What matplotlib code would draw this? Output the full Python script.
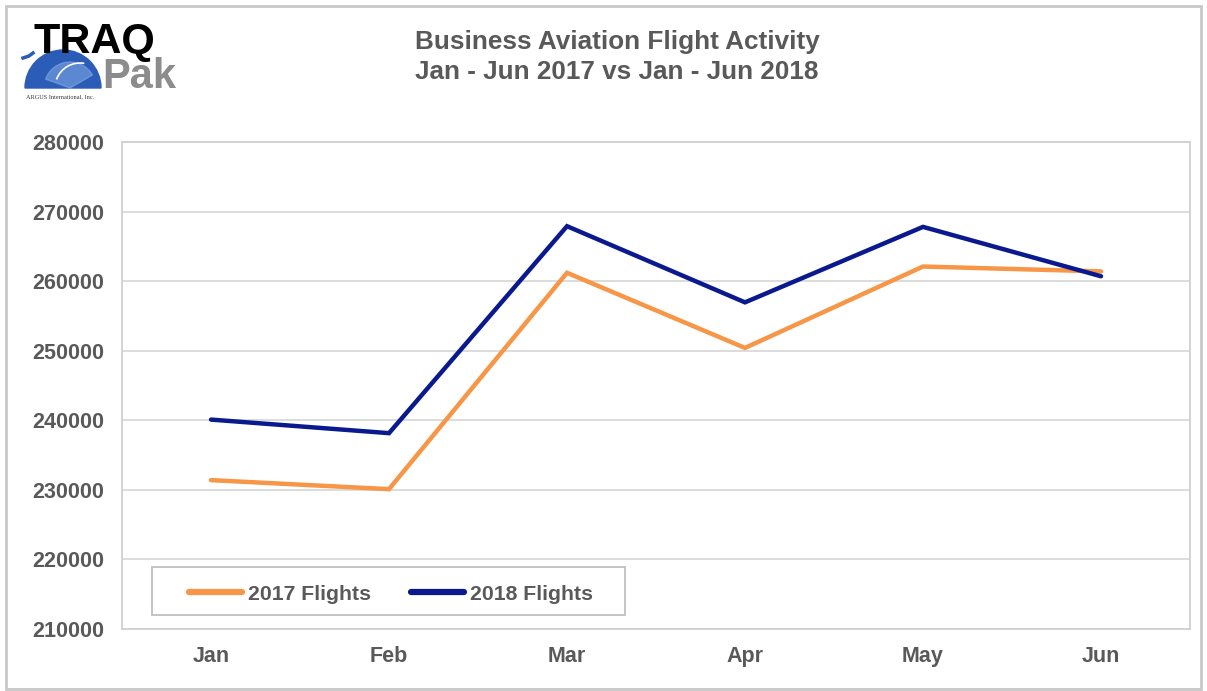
import matplotlib
matplotlib.use("Agg")
import matplotlib.pyplot as plt
from matplotlib.patches import Rectangle, Wedge, Arc
from matplotlib.lines import Line2D

months = ["Jan", "Feb", "Mar", "Apr", "May", "Jun"]
flights_2017 = [231400, 230100, 261200, 250400, 262100, 261400]
flights_2018 = [240100, 238150, 267900, 256950, 267800, 260700]
yticks = [210000, 220000, 230000, 240000, 250000, 260000, 270000, 280000]

plt.rcParams['font.family'] = ['Liberation Sans', 'DejaVu Sans']
grey_txt = "#595959"
c2017 = "#F79646"
c2018 = "#0A1A8E"

W, H = 1207, 691
fig = plt.figure(figsize=(W / 100, H / 100), dpi=100)
ax = fig.add_axes([122 / W, 1 - 629 / H, (1190 - 122) / W, (629 - 142) / H])

x = list(range(len(months)))
ax.plot(x, flights_2017, color=c2017, lw=3.2, solid_capstyle='round', solid_joinstyle='miter', zorder=3)
ax.plot(x, flights_2018, color=c2018, lw=3.2, solid_capstyle='round', solid_joinstyle='miter', zorder=4)

ax.set_xlim(-0.5, 5.5)
ax.set_ylim(210000, 280000)
ax.set_yticks(yticks)
ax.set_yticklabels([str(v) for v in yticks])
ax.set_xticks(x)
ax.set_xticklabels(months)
ax.tick_params(length=0, labelsize=15.5, labelcolor=grey_txt)
for lab in ax.get_xticklabels() + ax.get_yticklabels():
    lab.set_fontweight('bold')
ax.tick_params(axis='x', pad=12)
ax.tick_params(axis='y', pad=13)
ax.grid(axis='y', color="#D9D9D9", lw=1.3, zorder=0)
for s in ax.spines.values():
    s.set_color("#D0D0D0")
    s.set_linewidth(1.3)

# Legend (frame drawn separately)
bx0, bx1, by0, by1 = 152, 625, 567, 615
ax.add_patch(Rectangle(((bx0 - 122) / 1068, (629 - by1) / 487), (bx1 - bx0) / 1068, (by1 - by0) / 487,
                       transform=ax.transAxes, facecolor='white', edgecolor="#BFBFBF", lw=1.3, zorder=5))
handles = [Line2D([], [], color=c2017, lw=4.5, solid_capstyle='round'),
           Line2D([], [], color=c2018, lw=4.5, solid_capstyle='round')]
leg = ax.legend(handles, ["2017 Flights", "2018 Flights"], ncol=2,
                loc='center', bbox_to_anchor=((391 - 122) / 1068, (629 - 594) / 487),
                frameon=False, prop={'weight': 'bold', 'size': 15.3}, handlelength=2.5,
                handletextpad=0.28, columnspacing=1.9, borderaxespad=0, borderpad=0)
leg.set_zorder(6)
for t in leg.get_texts():
    t.set_color(grey_txt)

# Title
fig.text(617 / W, 1 - 42 / H, "Business Aviation Flight Activity", ha='center', va='center',
         fontsize=18.8, fontweight='bold', color=grey_txt)
fig.text(617 / W, 1 - 72 / H, "Jan - Jun 2017 vs Jan - Jun 2018", ha='center', va='center',
         fontsize=18.8, fontweight='bold', color=grey_txt)

# Figure border
fig.patches.append(Rectangle((6 / W, 2 / H), (W - 12) / W, (H - 8) / H, transform=fig.transFigure,
                             fill=False, edgecolor="#C8C8C8", lw=2))

# Logo
lax = fig.add_axes([0, 1 - 110 / H, 300 / W, 110 / H])
lax.set_xlim(0, 300)
lax.set_ylim(110, 0)
lax.axis('off')
lax.add_patch(Wedge((63, 88), 38, 180, 360, color="#2A5CB8", zorder=1))
lax.add_patch(Wedge((70, 88), 26, 200, 330, color="#8FB3EA", zorder=1, alpha=0.5))
lax.add_patch(Arc((80, 88), 50, 50, theta1=200, theta2=280, color='white', lw=1.2, zorder=2))
lax.text(34, 53, "TRAQ", fontsize=31, fontweight='bold', color='black', va='baseline',
         ha='left', zorder=3)
lax.text(102, 88, "Pak", fontsize=30, fontweight='bold', color='#8C8C8C', va='baseline',
         ha='left', zorder=3)
lax.text(26, 97, "ARGUS International, Inc.", fontsize=4.5, color='#333333', va='center',
         ha='left', family='Liberation Serif')
lax.plot([23, 29, 33], [58, 56, 53], color="#2A5CB8", lw=2.5)

fig.savefig("out.png", dpi=100)
